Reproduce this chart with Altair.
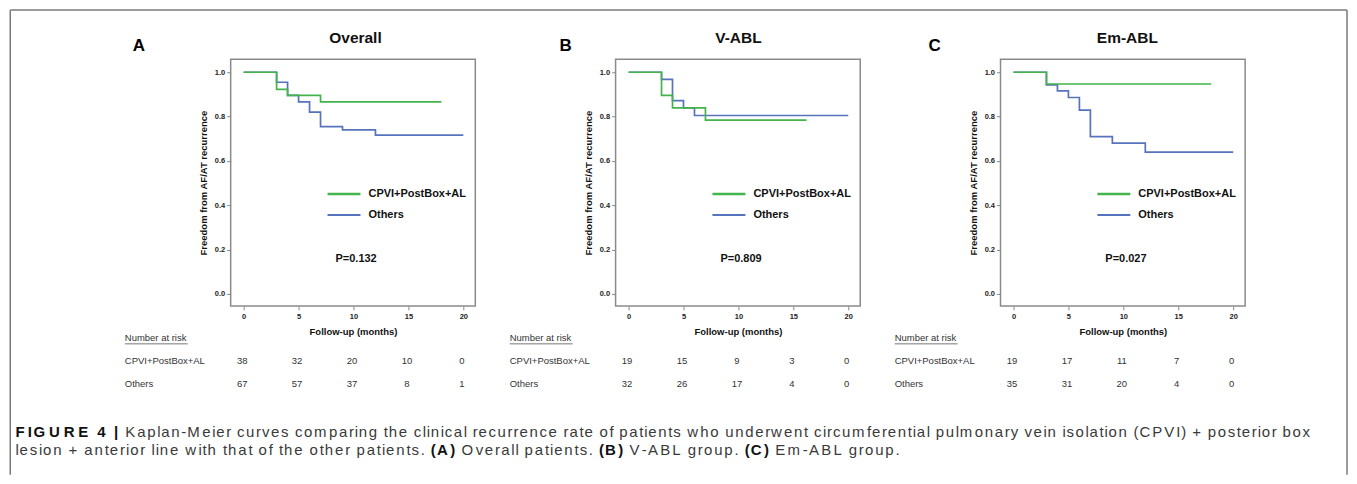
import altair as alt
import pandas as pd

FONT = "Liberation Sans"
GREEN = "#43b34b"
BLUE = "#5873bd"
FRAME = "#8a8a8a"

# ---------------- data ----------------
groups = ["CPVI+PostBox+AL", "Others"]
panel_letters = ["A", "B", "C"]
panel_titles = ["Overall", "V-ABL", "Em-ABL"]
p_values = ["P=0.132", "P=0.809", "P=0.027"]

A_cpvi_time = [0, 3, 4, 7, 18]
A_cpvi_surv = [1.0, 0.923, 0.896, 0.866, 0.866]
A_oth_time = [0, 3, 4, 5, 6, 7, 9, 12, 20]
A_oth_surv = [1.0, 0.955, 0.896, 0.866, 0.82, 0.755, 0.74, 0.716, 0.716]

B_cpvi_time = [0, 3, 4, 7, 16.2]
B_cpvi_surv = [1.0, 0.896, 0.839, 0.784, 0.784]
B_oth_time = [0, 3, 4, 5, 6, 20]
B_oth_surv = [1.0, 0.968, 0.872, 0.839, 0.805, 0.805]

C_cpvi_time = [0, 3, 18]
C_cpvi_surv = [1.0, 0.947, 0.947]
C_oth_time = [0, 3, 4, 5, 6, 7, 9, 12, 20]
C_oth_surv = [1.0, 0.943, 0.916, 0.886, 0.829, 0.71, 0.68, 0.64, 0.64]

risk_time = [0, 5, 10, 15, 20]
A_risk_cpvi = [38, 32, 20, 10, 0]
A_risk_oth = [67, 57, 37, 8, 1]
B_risk_cpvi = [19, 15, 9, 3, 0]
B_risk_oth = [32, 26, 17, 4, 0]
C_risk_cpvi = [19, 17, 11, 7, 0]
C_risk_oth = [35, 31, 20, 4, 0]

x_ticks = [0, 5, 10, 15, 20]
y_ticks = [0.0, 0.2, 0.4, 0.6, 0.8, 1.0]

caption_line1 = [("FIGURE 4 |", True),
                 ("Kaplan-Meier curves comparing the clinical recurrence rate of patients who underwent "
                  "circumferential pulmonary vein isolation (CPVI) + posterior box", False)]
caption_line2 = [("lesion + anterior line with that of the other patients.", False), ("(A)", True),
                 ("Overall patients.", False), ("(B)", True), ("V-ABL group.", False), ("(C)", True),
                 ("Em-ABL group.", False)]

# ---------------- geometry ----------------
W, H = 245, 247
X_LO = -13 / 11
X_HI = X_LO + W / 11
Y_LO = -12 / 222
Y_HI = 1 + 13 / 222
ORIGIN_X, ORIGIN_Y = 229.5, 58.0   # page position of panel A plot area
SPACING = 140.5


def px2t(px):
    return X_LO + px * (X_HI - X_LO) / W


def py2s(py):
    return Y_HI - py * (Y_HI - Y_LO) / H


# Arial / Liberation Sans advance widths (1/1000 em)
_reg = dict(zip("abcdefghijklmnopqrstuvwxyz",
                [556, 556, 500, 556, 556, 278, 556, 556, 222, 222, 500, 222, 833, 556, 556, 556, 556, 333, 500,
                 278, 556, 500, 722, 500, 500, 500]))
_reg.update(dict(zip("ABCDEFGHIJKLMNOPQRSTUVWXYZ",
                     [667, 667, 722, 722, 667, 611, 778, 722, 278, 500, 667, 556, 833, 722, 778, 667, 778, 722,
                      667, 611, 722, 667, 944, 667, 667, 611])))
_reg.update({" ": 278, "(": 333, ")": 333, "+": 584, "-": 333, ".": 278, "|": 260, ",": 278})
_bold = dict(zip("abcdefghijklmnopqrstuvwxyz",
                 [556, 611, 556, 611, 556, 333, 611, 611, 278, 278, 556, 278, 889, 611, 611, 611, 611, 389, 556,
                  333, 611, 556, 778, 556, 556, 500]))
_bold.update(dict(zip("ABCDEFGHIJKLMNOPQRSTUVWXYZ",
                      [722, 722, 722, 722, 667, 611, 778, 722, 278, 556, 722, 611, 833, 722, 778, 667, 778, 722,
                       667, 611, 722, 667, 944, 667, 667, 611])))
_bold.update({" ": 278, "(": 333, ")": 333, "+": 584, "-": 333, ".": 278, "|": 280, ",": 278})

CAP_SIZE = 15


def cw(c, bold):
    return (_bold if bold else _reg).get(c, 556) * CAP_SIZE / 1000.0


def caption_chars(segments, anchor_text, anchor_px, end_px=None):
    """Place characters with expanded tracking so the line spans the reference extent."""
    chars, off, starts = [], 0.0, {}
    for si, (text, bold) in enumerate(segments):
        if si:
            off += cw(" ", False)
        starts[text] = off
        for c in text:
            chars.append((c, bold, off))
            off += cw(c, bold)
    anchors = [(0.0, 14.0), (starts[anchor_text], anchor_px)]
    if end_px is not None:
        anchors.append((off, end_px))
    out = []
    for c, bold, o in chars:
        if c == " ":
            continue
        for i in range(len(anchors) - 1):
            o0, p0 = anchors[i]
            o1, p1 = anchors[i + 1]
            if o <= o1 or i == len(anchors) - 2:
                out.append((c, bold, p0 + (o - o0) * (p1 - p0) / (o1 - o0)))
                break
    return out


cap_rows = []
for c, bold, px in caption_chars(caption_line1, caption_line1[1][0], 124.0, 1312.0):
    cap_rows.append({"t": px2t(px - ORIGIN_X), "s": py2s(436 - ORIGIN_Y), "w": c, "b": bold})
for c, bold, px in caption_chars(caption_line2, "(A)", 430.0):
    cap_rows.append({"t": px2t(px - ORIGIN_X), "s": py2s(454 - ORIGIN_Y), "w": c, "b": bold})
cap_df = pd.DataFrame(cap_rows)

# ---------------- encodings ----------------
x_scale = alt.Scale(domain=[X_LO, X_HI], nice=False, zero=False)
y_scale = alt.Scale(domain=[Y_LO, Y_HI], nice=False, zero=False)
x_axis = alt.Axis(values=x_ticks, format="d", title="Follow-up (months)", labelFont=FONT, labelFontSize=7.5,
                  labelFontWeight="bold", labelColor="#222", tickColor=FRAME, tickSize=4, domain=False, grid=False,
                  labelPadding=3, titleFont=FONT, titleFontSize=9.5, titleFontWeight="bold", titleColor="#111",
                  titlePadding=6)
y_axis = alt.Axis(values=y_ticks, format=".1f", title="Freedom from AF/AT recurrence", labelFont=FONT,
                  labelFontSize=7.5, labelFontWeight="bold", labelColor="#222", tickColor=FRAME, tickSize=4,
                  domain=False, grid=False, labelPadding=2, titleFont=FONT, titleFontSize=9.5,
                  titleFontWeight="bold", titleColor="#111", titlePadding=6)
X = alt.X("t:Q", scale=x_scale, axis=x_axis)
Y = alt.Y("s:Q", scale=y_scale, axis=y_axis)
COLOR = alt.Color("g:N", scale=alt.Scale(domain=groups, range=[GREEN, BLUE]), legend=None)

ONE = pd.DataFrame({"k": [0]})


def txt(text, x, y, size, bold=False, align="left", color="#000", baseline="middle"):
    return alt.Chart(ONE).mark_text(text=text, font=FONT, fontSize=size,
                                    fontWeight="bold" if bold else "normal", align=align,
                                    baseline=baseline, color=color).encode(x=alt.value(x), y=alt.value(y))


def hrule(x1, x2, y, color, width):
    return alt.Chart(ONE).mark_rule(color=color, strokeWidth=width).encode(
        x=alt.value(x1), x2=alt.value(x2), y=alt.value(y))


def vrule(x, y1, y2, color, width):
    return alt.Chart(ONE).mark_rule(color=color, strokeWidth=width).encode(
        x=alt.value(x), y=alt.value(y1), y2=alt.value(y2))


def panel(i, ct, cs, ot, os_, rc, ro, letter_dx, title_dx, extra=None):
    d_c = pd.DataFrame({"t": ct, "s": cs, "g": groups[0]})
    d_o = pd.DataFrame({"t": ot, "s": os_, "g": groups[1]})
    d_rc = pd.DataFrame({"t": risk_time, "n": rc})
    d_ro = pd.DataFrame({"t": risk_time, "n": ro})
    layers = [
        alt.Chart(d_o).mark_line(interpolate="step-after", strokeWidth=1.7).encode(x=X, y=Y, color=COLOR),
        alt.Chart(d_c).mark_line(interpolate="step-after", strokeWidth=1.7).encode(x=X, y=Y, color=COLOR),
        hrule(97, 130, 135, GREEN, 2.4),
        hrule(97, 130, 156, BLUE, 2.0),
        txt(groups[0], 138, 135, 11, bold=True, color="#111"),
        txt(groups[1], 138, 156, 11, bold=True, color="#111"),
        txt(p_values[i], 105, 200, 11, bold=True, color="#111"),
        txt(panel_titles[i], title_dx, -21, 15.5, bold=True, align="center", color="#111"),
        txt(panel_letters[i], letter_dx, -13, 17, bold=True, align="center", color="#000"),
        txt("Number at risk", -106, 279, 9.5, color="#333"),
        hrule(-106, -43, 285, "#555", 0.8),
        txt(groups[0], -106, 302, 9.5, color="#333"),
        txt(groups[1], -106, 325, 9.5, color="#333"),
        alt.Chart(d_rc).mark_text(font=FONT, fontSize=9.5, color="#333", dx=-1.5).encode(
            x=X, y=alt.value(302), text="n:Q"),
        alt.Chart(d_ro).mark_text(font=FONT, fontSize=9.5, color="#333", dx=-1.5).encode(
            x=X, y=alt.value(325), text="n:Q"),
    ]
    if extra:
        layers += extra
    return alt.layer(*layers).properties(width=W, height=H)


# global decorations drawn in panel A coordinates
L = 8.75 - ORIGIN_X
R = 1347.5 - ORIGIN_X
T = 8.75 - ORIGIN_Y
B = 474 - ORIGIN_Y
extra_a = [
    hrule(L, R, T, "#7a7a7a", 1.5),
    vrule(L, T, B, "#7a7a7a", 1.5),
    vrule(R, T, B, "#7a7a7a", 1.5),
    alt.Chart(cap_df).transform_filter("!datum.b").mark_text(
        font=FONT, fontSize=CAP_SIZE, color="#3a3a3a", align="left", baseline="alphabetic").encode(
        x=X, y=Y, text="w:N"),
    alt.Chart(cap_df).transform_filter("datum.b").mark_text(
        font=FONT, fontSize=CAP_SIZE, fontWeight="bold", color="#111", align="left",
        baseline="alphabetic").encode(x=X, y=Y, text="w:N"),
]

pA = panel(0, A_cpvi_time, A_cpvi_surv, A_oth_time, A_oth_surv, A_risk_cpvi, A_risk_oth, -92, 125, extra_a)
pB = panel(1, B_cpvi_time, B_cpvi_surv, B_oth_time, B_oth_surv, B_risk_cpvi, B_risk_oth, -50, 123)
pC = panel(2, C_cpvi_time, C_cpvi_surv, C_oth_time, C_oth_surv, C_risk_cpvi, C_risk_oth, -66, 127)

chart = alt.hconcat(pA, pB, pC, spacing=SPACING, bounds="flush").properties(
    padding=0, background="white"
).configure_view(stroke=FRAME, strokeWidth=1.5)

chart.save("out.html", embed_options={"renderer": "svg", "actions": False})
